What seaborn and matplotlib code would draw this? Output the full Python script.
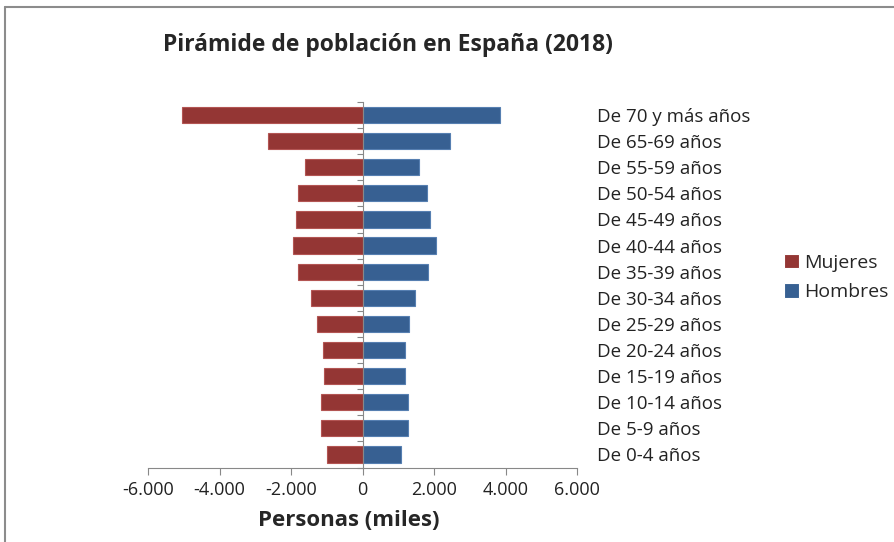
import numpy as np
import pandas as pd
import matplotlib
matplotlib.use("Agg")
import matplotlib.pyplot as plt
import seaborn as sns
from matplotlib.lines import Line2D
from matplotlib.ticker import FuncFormatter, FixedLocator

# --- data (miles de personas) ---
grupos = ["De 70 y más años", "De 65-69 años", "De 55-59 años", "De 50-54 años",
          "De 45-49 años", "De 40-44 años", "De 35-39 años", "De 30-34 años",
          "De 25-29 años", "De 20-24 años", "De 15-19 años", "De 10-14 años",
          "De 5-9 años", "De 0-4 años"]
mujeres = [-5040, -2640, -1610, -1800, -1860, -1950, -1800, -1440,
           -1260, -1100, -1070, -1165, -1165, -980]
hombres = [3860, 2460, 1570, 1810, 1900, 2050, 1840, 1455,
           1300, 1175, 1175, 1270, 1270, 1090]
xticks = [-6000, -4000, -2000, 0, 2000, 4000, 6000]

ROJO = "#943634"
AZUL = "#376092"

df = pd.DataFrame({
    "grupo": grupos * 2,
    "valor": mujeres + hombres,
    "sexo": ["Mujeres"] * len(grupos) + ["Hombres"] * len(grupos),
})

sns.set_style("white")
plt.rcParams["font.family"] = ["Open Sans", "DejaVu Sans"]

fig = plt.figure(figsize=(8.95, 5.42), dpi=100)
ax = fig.add_axes([148 / 895, 1 - 467.5 / 542, (577 - 148) / 895, (467.5 - 102) / 542])

sns.barplot(data=df, x="valor", y="grupo", hue="sexo", order=grupos,
            hue_order=["Mujeres", "Hombres"], palette=[ROJO, AZUL],
            dodge=False, width=0.62, orient="h", errorbar=None, saturation=1,
            linewidth=0.8, ax=ax)
for bar in ax.patches:
    fc = bar.get_facecolor()
    bar.set_edgecolor(tuple(min(1, c + 0.12) for c in fc[:3]))

ax.set_xlim(-6000, 6000)
ax.set_ylim(len(grupos) - 0.5, -0.5)
ax.xaxis.set_major_locator(FixedLocator(xticks))
ax.xaxis.set_major_formatter(FuncFormatter(lambda v, p: f"{v:,.0f}".replace(",", ".")))

# vertical axis at zero, labels to the right
ax.spines["left"].set_position(("data", 0))
ax.spines["left"].set_color("#888888")
ax.spines["bottom"].set_color("#888888")
ax.spines["top"].set_visible(False)
ax.spines["right"].set_visible(False)
ax.yaxis.set_minor_locator(FixedLocator(np.arange(-0.5, len(grupos), 1)))
ax.tick_params(axis="y", which="major", left=False, right=False,
               labelleft=False, labelright=True, pad=11, labelsize=13.5, colors="#222222")
ax.tick_params(axis="y", which="minor", left=True, length=4, width=0.8, color="#888888")
ax.tick_params(axis="x", bottom=True, length=5, width=0.8, color="#888888",
               labelsize=13, labelcolor="#222222", pad=5)

ax.set_ylabel("")
ax.set_xlabel("")
fig.text(349 / 895, 1 - 520 / 542, "Personas (miles)", ha="center", va="center",
         fontsize=16, fontweight="bold")

fig.text(388 / 895, 1 - 45 / 542, "Pirámide de población en España (2018)",
         ha="center", va="center", fontsize=16.5, fontweight="bold")

sns.move_legend(ax, loc="center left", bbox_to_anchor=(784 / 895, 1 - 277.5 / 542),
                bbox_transform=fig.transFigure, frameon=False, title=None,
                fontsize=14, handlelength=0.75, handleheight=0.75,
                handletextpad=0.3, labelspacing=0.6, borderpad=0, borderaxespad=0)

# chart frame (left and top edge)
fig.add_artist(Line2D([5 / 895, 5 / 895], [0, 1 - 7 / 542], transform=fig.transFigure,
                      color="#8c8c8c", linewidth=1.5))
fig.add_artist(Line2D([5 / 895, 1], [1 - 7 / 542, 1 - 7 / 542], transform=fig.transFigure,
                      color="#8c8c8c", linewidth=1.5))

fig.savefig("out.png", dpi=100)
